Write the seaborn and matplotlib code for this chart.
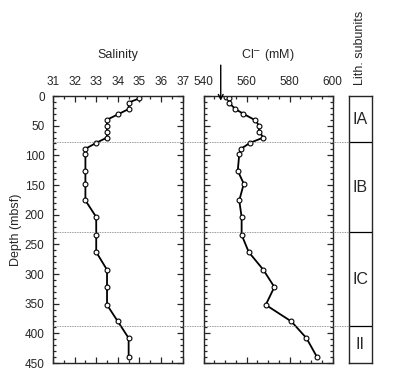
import matplotlib
matplotlib.use('Agg')
import matplotlib.pyplot as plt
import seaborn as sns
from matplotlib.lines import Line2D
from matplotlib.transforms import blended_transform_factory
from matplotlib.ticker import MultipleLocator

# data
sal_depth = [4, 11, 22, 31, 40, 50, 60, 70, 79, 89, 98, 126, 148, 176, 204,
             234, 263, 293, 322, 352, 380, 408, 440]
salinity = [35.0, 34.5, 34.5, 34.0, 33.5, 33.5, 33.5, 33.5, 33.0, 32.5, 32.5,
            32.5, 32.5, 32.5, 33.0, 33.0, 33.0, 33.5, 33.5, 33.5, 34.0, 34.5, 34.5]

cl_depth = [1, 3, 11, 22, 30, 41, 50, 60, 70, 79, 89, 98, 126, 148, 176, 204,
            234, 263, 293, 322, 352, 380, 408, 440]
chloride = [550.5, 551.7, 551.7, 554.8, 558.5, 564.1, 565.8, 565.8, 567.8,
            561.6, 557.4, 556.6, 555.9, 558.7, 556.6, 557.7, 557.7, 561.0,
            567.8, 572.9, 568.9, 580.8, 587.8, 592.7]

unit_names = ['IA', 'IB', 'IC', 'II']
unit_bounds = [0, 78, 230, 388, 450]
seawater_cl = 548

sns.set_style('ticks')
plt.rcParams['font.family'] = ['Liberation Sans', 'DejaVu Sans']
plt.rcParams['font.size'] = 8.5

fig = plt.figure(figsize=(3.96, 3.79), dpi=100)
bottom, height = 0.0422, 0.7045
ax_s = fig.add_axes([0.1338, bottom, 0.3275, height])
ax_c = fig.add_axes([0.5139, bottom, 0.3263, height])
ax_l = fig.add_axes([0.8813, bottom, 0.058, height])

line_kw = dict(sort=False, estimator=None, color='black', lw=1.3,
               marker='o', markersize=3.5, markerfacecolor='white',
               markeredgecolor='black', markeredgewidth=0.8)
sns.lineplot(x=salinity, y=sal_depth, ax=ax_s, orient='y', **line_kw)
sns.lineplot(x=chloride, y=cl_depth, ax=ax_c, orient='y', **line_kw)

for ax in (ax_s, ax_c):
    ax.set_ylim(450, 0)
    ax.yaxis.set_major_locator(MultipleLocator(50))
    ax.yaxis.set_minor_locator(MultipleLocator(10))
    ax.xaxis.tick_top()
    ax.tick_params(which='both', direction='in', top=True, bottom=True,
                   left=True, right=True, labelsize=8.5)
    ax.tick_params(axis='x', pad=6)
    ax.tick_params(axis='y', pad=6)
    ax.tick_params(which='major', length=4, width=0.9)
    ax.tick_params(which='minor', length=2.5, width=0.9)
    for sp in ax.spines.values():
        sp.set_linewidth(1.0)
    ax.set_xlabel('')
    ax.set_ylabel('')

ax_s.set_xlim(31, 37)
ax_s.xaxis.set_major_locator(MultipleLocator(1))
ax_s.xaxis.set_minor_locator(MultipleLocator(0.5))
ax_s.set_ylabel('Depth (mbsf)', fontsize=9, labelpad=2)
ax_s.text(0.5, 1.155, 'Salinity', transform=ax_s.transAxes, ha='center',
          va='center', fontsize=9)

ax_c.set_xlim(540, 600)
ax_c.xaxis.set_major_locator(MultipleLocator(20))
ax_c.xaxis.set_minor_locator(MultipleLocator(5))
ax_c.tick_params(labelleft=False)
ax_c.text(0.5, 1.155, 'Cl$^{-}$ (mM)', transform=ax_c.transAxes, ha='center',
          va='center', fontsize=9)
ax_c.annotate('', xy=(seawater_cl, 8), xytext=(seawater_cl, -52),
              xycoords='data', annotation_clip=False,
              arrowprops=dict(arrowstyle='->', color='black', lw=1.0,
                              shrinkA=0, shrinkB=0))

# lithologic column
ax_l.set_ylim(450, 0)
ax_l.set_xlim(0, 1)
ax_l.set_xticks([])
ax_l.set_yticks([])
for sp in ax_l.spines.values():
    sp.set_linewidth(1.0)
for name, top, base in zip(unit_names, unit_bounds[:-1], unit_bounds[1:]):
    ax_l.text(0.5, (top + base) / 2, name, ha='center', va='center',
              fontsize=11.5)
    if top > 0:
        ax_l.axhline(top, color='black', lw=0.9)
ax_l.text(0.5, 1.04, 'Lith. subunits', transform=ax_l.transAxes,
          rotation=90, ha='center', va='bottom', fontsize=9)

# dotted unit boundaries across the panels
trans = blended_transform_factory(fig.transFigure, ax_s.transData)
for b in unit_bounds[1:-1]:
    fig.add_artist(Line2D([0.1338, 0.8813], [b, b], transform=trans,
                          color='#777777', lw=0.6, ls=(0, (1, 1))))

fig.savefig('out.png', dpi=100)
